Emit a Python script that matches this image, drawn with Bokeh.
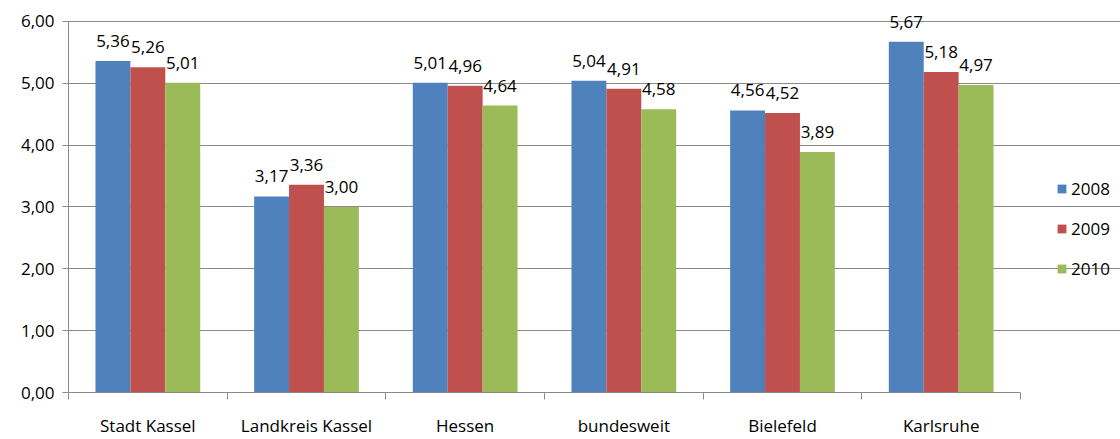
from bokeh.plotting import figure
from bokeh.models import (ColumnDataSource, FixedTicker, Legend, LegendItem,
                          LabelSet)
from bokeh.core.properties import value
from bokeh.embed import file_html
from bokeh.resources import INLINE

categories = ["Stadt Kassel", "Landkreis Kassel", "Hessen", "bundesweit",
              "Bielefeld", "Karlsruhe"]
years = ["2008", "2009", "2010"]
values_2008 = [5.36, 3.17, 5.01, 5.04, 4.56, 5.67]
values_2009 = [5.26, 3.36, 4.96, 4.91, 4.52, 5.18]
values_2010 = [5.01, 3.00, 4.64, 4.58, 3.89, 4.97]
y_ticks = [0, 1, 2, 3, 4, 5, 6]
y_tick_labels = ["0,00", "1,00", "2,00", "3,00", "4,00", "5,00", "6,00"]

colors = ["#4F81BD", "#C0504D", "#9BBB59"]
FONT = "Open Sans"
SIZE = "17px"
GRID = "#8a8a8a"

W, H = 1120, 439
LEFT, PLOT_RIGHT = 68, 1020
PLOT_TOP, BOTTOM = 21, 45
n = len(categories)
y_max = y_ticks[-1]

# the frame spans the whole canvas to the right and top so the legend and
# the topmost value labels are not clipped; grid and axes are bounded to
# the value/category span
cat_px = (PLOT_RIGHT - LEFT) / n
x_end = n + (W - PLOT_RIGHT) / cat_px
unit_px = (H - BOTTOM - PLOT_TOP) / y_max
y_end = y_max + PLOT_TOP / unit_px

p = figure(width=W, height=H, x_range=(0, x_end), y_range=(0, y_end),
           output_backend="svg", toolbar_location=None,
           min_border_left=LEFT, min_border_right=0,
           min_border_top=0, min_border_bottom=BOTTOM)
p.outline_line_color = None
p.background_fill_color = "white"
p.border_fill_color = "white"

# y axis with comma-decimal labels
p.yaxis.bounds = (0, y_max)
p.yaxis.ticker = FixedTicker(ticks=y_ticks)
p.yaxis.major_label_overrides = {t: s for t, s in zip(y_ticks, y_tick_labels)}
p.yaxis.major_tick_out = 6
p.yaxis.major_tick_in = 0
p.yaxis.minor_tick_line_color = None
p.yaxis.axis_line_color = GRID
p.yaxis.major_tick_line_color = GRID
p.yaxis.major_label_text_font = FONT
p.yaxis.major_label_text_font_size = SIZE
p.yaxis.major_label_text_color = "#000000"
p.yaxis.major_label_standoff = 8

p.ygrid.ticker = FixedTicker(ticks=y_ticks[1:])
p.ygrid.grid_line_color = GRID
p.ygrid.bounds = (0, n)
p.xgrid.grid_line_color = None

# x axis: category names at centres, tick marks at category boundaries
centers = [i + 0.5 for i in range(n)]
p.xaxis.bounds = (0, n)
p.xaxis.ticker = FixedTicker(ticks=centers, minor_ticks=list(range(n + 1)))
p.xaxis.major_label_overrides = {c: s for c, s in zip(centers, categories)}
p.xaxis.major_tick_line_color = None
p.xaxis.major_tick_out = 0
p.xaxis.major_tick_in = 0
p.xaxis.minor_tick_line_color = GRID
p.xaxis.minor_tick_out = 7
p.xaxis.minor_tick_in = 0
p.xaxis.axis_line_color = GRID
p.xaxis.major_label_text_font = FONT
p.xaxis.major_label_text_font_size = SIZE
p.xaxis.major_label_text_color = "#000000"
p.xaxis.major_label_standoff = 14

bar_w = 0.22
offsets = [-bar_w, 0.0, bar_w]
series = [values_2008, values_2009, values_2010]
items = []
for year, vals, off, col in zip(years, series, offsets, colors):
    src = ColumnDataSource(dict(
        x=[c + off for c in centers],
        top=vals,
        label=[f"{v:.2f}".replace(".", ",") for v in vals],
    ))
    r = p.vbar(x="x", top="top", width=bar_w, bottom=0, source=src,
               fill_color=col, line_color=None)
    items.append(LegendItem(label=year, renderers=[r]))
    p.add_layout(LabelSet(x="x", y="top", text="label", source=src,
                          text_align="center", text_baseline="middle",
                          y_offset=20, text_font=value(FONT),
                          text_font_size=value(SIZE), text_color="#000000"))

legend = Legend(items=items, location=(988, 112), orientation="vertical",
                glyph_width=11, glyph_height=11, label_height=20,
                spacing=17, padding=0, margin=0, label_standoff=4,
                border_line_color=None, background_fill_alpha=0,
                label_text_font=FONT, label_text_font_size=SIZE,
                label_text_color="#000000")
p.add_layout(legend, "center")

open("out.html", "w").write(file_html(p, INLINE))
